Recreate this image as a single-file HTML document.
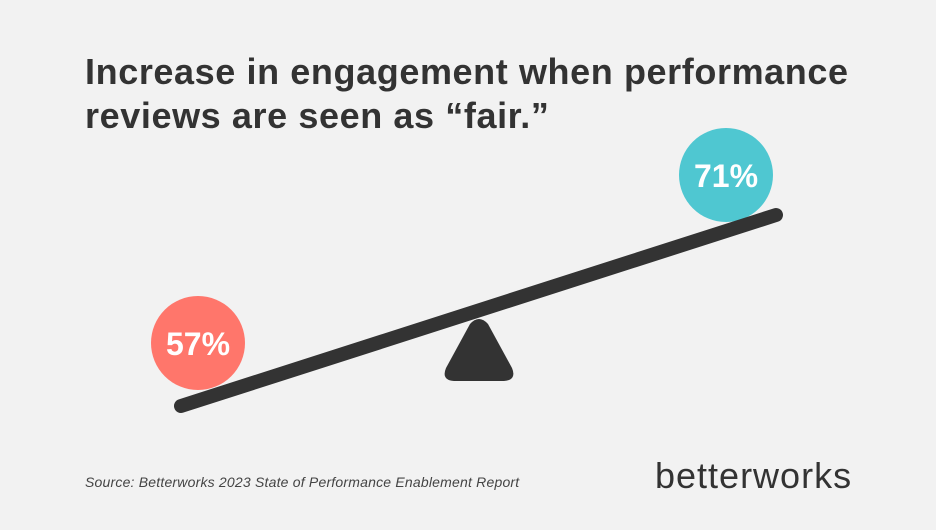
<!DOCTYPE html>
<html><head><style>
body{margin:0;width:936px;height:530px;background:#f2f2f2;overflow:hidden;font-family:"Liberation Sans",sans-serif;}
.t{position:absolute;left:85px;top:50px;font-size:36px;font-weight:bold;color:#333;line-height:44px;letter-spacing:0.6px;}
.s{position:absolute;left:85px;top:474px;font-size:14px;font-style:italic;color:#444;letter-spacing:0.2px;}
.l{position:absolute;left:655px;top:455px;font-size:36px;color:#333;letter-spacing:1px;}
</style></head><body>
<div class="t">Increase in engagement when performance<br>reviews are seen as “fair.”</div>
<svg width="936" height="530" style="position:absolute;left:0;top:0">
<circle cx="198" cy="343" r="47" fill="#ff766b"/>
<circle cx="726" cy="175" r="47" fill="#4fc7d1"/>
<text x="198" y="355" font-size="32" font-weight="bold" fill="#fff" text-anchor="middle" font-family="Liberation Sans">57%</text>
<text x="726" y="187" font-size="32" font-weight="bold" fill="#fff" text-anchor="middle" font-family="Liberation Sans">71%</text>
<path d="M470 324 Q479 314 488 324 L512 368 Q517 380 504 381 L454 381 Q441 380 446 368 Z" fill="#333"/>
<line x1="181" y1="406" x2="776" y2="215" stroke="#333" stroke-width="14" stroke-linecap="round"/>
</svg>
<div class="s">Source: Betterworks 2023 State of Performance Enablement Report</div>
<div class="l">betterworks</div>
</body></html>
